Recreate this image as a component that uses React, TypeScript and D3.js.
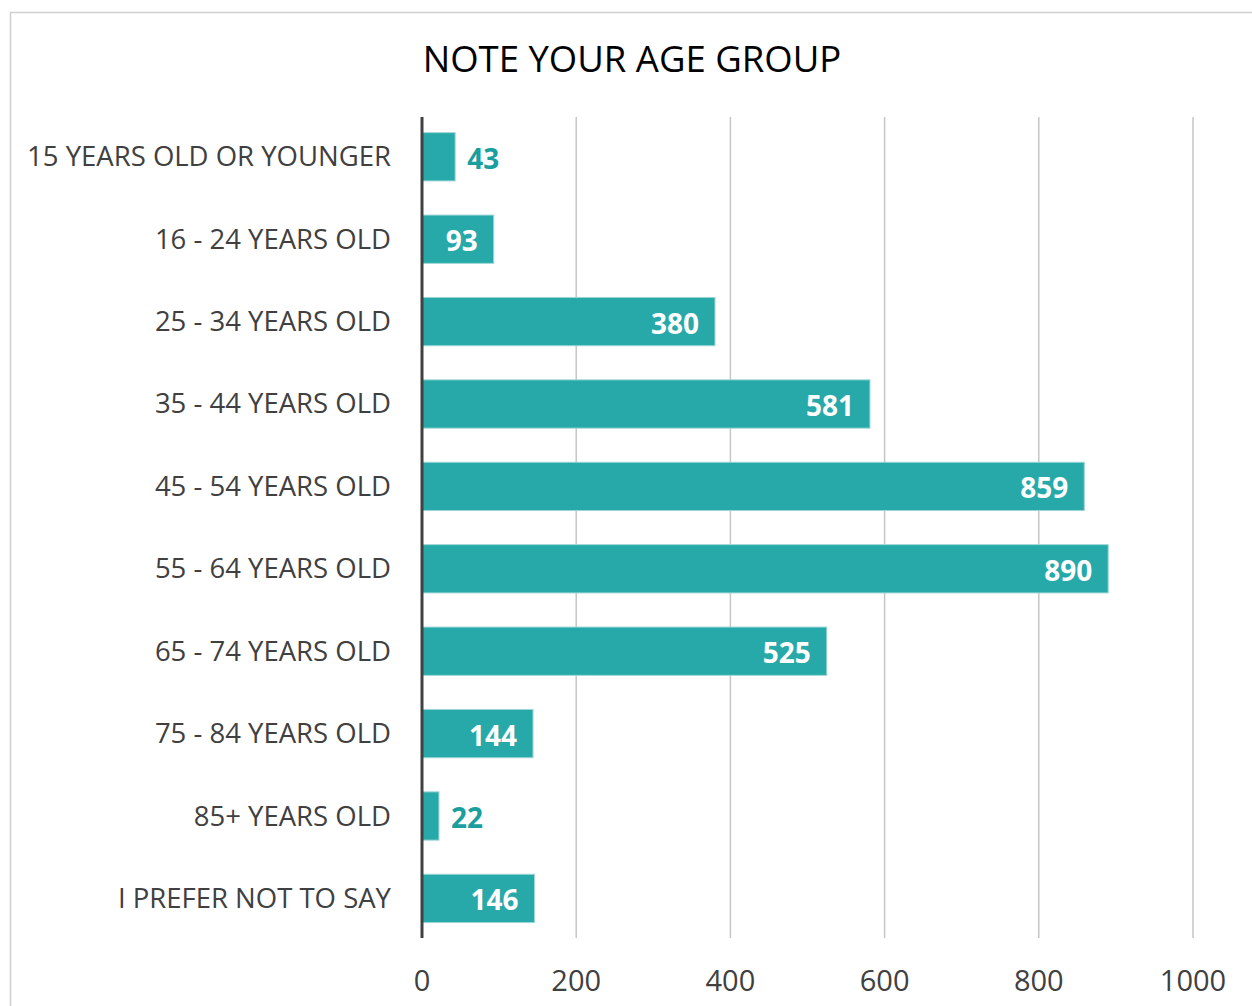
import * as d3 from "d3";
import { useRef, useEffect } from "react";

const categories = [
  "15 YEARS OLD OR YOUNGER",
  "16 - 24 YEARS OLD",
  "25 - 34 YEARS OLD",
  "35 - 44 YEARS OLD",
  "45 - 54 YEARS OLD",
  "55 - 64 YEARS OLD",
  "65 - 74 YEARS OLD",
  "75 - 84 YEARS OLD",
  "85+ YEARS OLD",
  "I PREFER NOT TO SAY",
];
const counts = [43, 93, 380, 581, 859, 890, 525, 144, 22, 146];
const xTicks = [0, 200, 400, 600, 800, 1000];

const W = 1252;
const H = 1006;
const FONT = "'Open Sans', 'Noto Sans', sans-serif";

export default function App() {
  const svgRef = useRef<SVGSVGElement>(null);

  useEffect(() => {
    if (!svgRef.current) return;
    const svg = d3.select(svgRef.current);
    svg.selectAll("*").remove();

    const left = 422;
    const right = 1193;
    const top = 117;
    const bottom = 938;

    const x = d3.scaleLinear().domain([0, 1000]).range([left, right]);
    const y = d3
      .scaleBand<string>()
      .domain(categories)
      .range([top, bottom + 0.2])
      .paddingInner(0.414)
      .paddingOuter(0.19);

    // frame
    svg
      .append("path")
      .attr("d", `M10.5,${H} V12.5 H${W}`)
      .attr("fill", "none")
      .attr("stroke", "#d0d0d0")
      .attr("stroke-width", 1.5);

    // title
    svg
      .append("text")
      .attr("x", 632)
      .attr("y", 72)
      .attr("text-anchor", "middle")
      .attr("font-family", FONT)
      .attr("font-size", 36.5)
      .attr("fill", "#000")
      .text("NOTE YOUR AGE GROUP");

    // gridlines
    svg
      .append("g")
      .selectAll("line")
      .data(xTicks.slice(1))
      .join("line")
      .attr("x1", (d) => x(d))
      .attr("x2", (d) => x(d))
      .attr("y1", top)
      .attr("y2", bottom)
      .attr("stroke", "#c6c6c6")
      .attr("stroke-width", 1.5);

    // bars
    const data = categories.map((c, i) => ({ c, v: counts[i] }));
    svg
      .append("g")
      .selectAll("rect")
      .data(data)
      .join("rect")
      .attr("x", x(0))
      .attr("y", (d) => y(d.c)!)
      .attr("width", (d) => x(d.v) - x(0))
      .attr("height", y.bandwidth())
      .attr("fill", "#27a9a9")
      .attr("stroke", "#9ed6d6")
      .attr("stroke-width", 1);

    // value labels
    svg
      .append("g")
      .selectAll("text")
      .data(data)
      .join("text")
      .attr("font-family", FONT)
      .attr("font-weight", "bold")
      .attr("font-size", 28)
      .attr("dominant-baseline", "central")
      .attr("y", (d) => y(d.c)! + y.bandwidth() / 2 + 1)
      .each(function (d) {
        const inside = x(d.v) - x(0) > 60;
        d3.select(this)
          .attr("x", inside ? x(d.v) - 16 : x(d.v) + 12)
          .attr("text-anchor", inside ? "end" : "start")
          .attr("fill", inside ? "#ffffff" : "#1a9e9e");
      })
      .text((d) => d.v);

    // category labels
    svg
      .append("g")
      .selectAll("text")
      .data(categories)
      .join("text")
      .attr("x", 391)
      .attr("y", (d) => y(d)! + y.bandwidth() / 2 - 1)
      .attr("dominant-baseline", "central")
      .attr("text-anchor", "end")
      .attr("font-family", FONT)
      .attr("font-size", 27.5)
      .attr("fill", "#404040")
      .text((d) => d);

    // x tick labels
    svg
      .append("g")
      .selectAll("text")
      .data(xTicks)
      .join("text")
      .attr("x", (d) => x(d))
      .attr("y", 979)
      .attr("dominant-baseline", "central")
      .attr("text-anchor", "middle")
      .attr("font-family", FONT)
      .attr("font-size", 29)
      .attr("fill", "#404040")
      .text((d) => d);

    // axis line
    svg
      .append("line")
      .attr("x1", x(0))
      .attr("x2", x(0))
      .attr("y1", top)
      .attr("y2", bottom)
      .attr("stroke", "#404040")
      .attr("stroke-width", 3);
  }, []);

  return (
    <svg
      ref={svgRef}
      width={W}
      height={H}
      viewBox={`0 0 ${W} ${H}`}
      style={{ display: "block", position: "absolute", left: 0, top: 0, background: "#fff" }}
    />
  );
}
